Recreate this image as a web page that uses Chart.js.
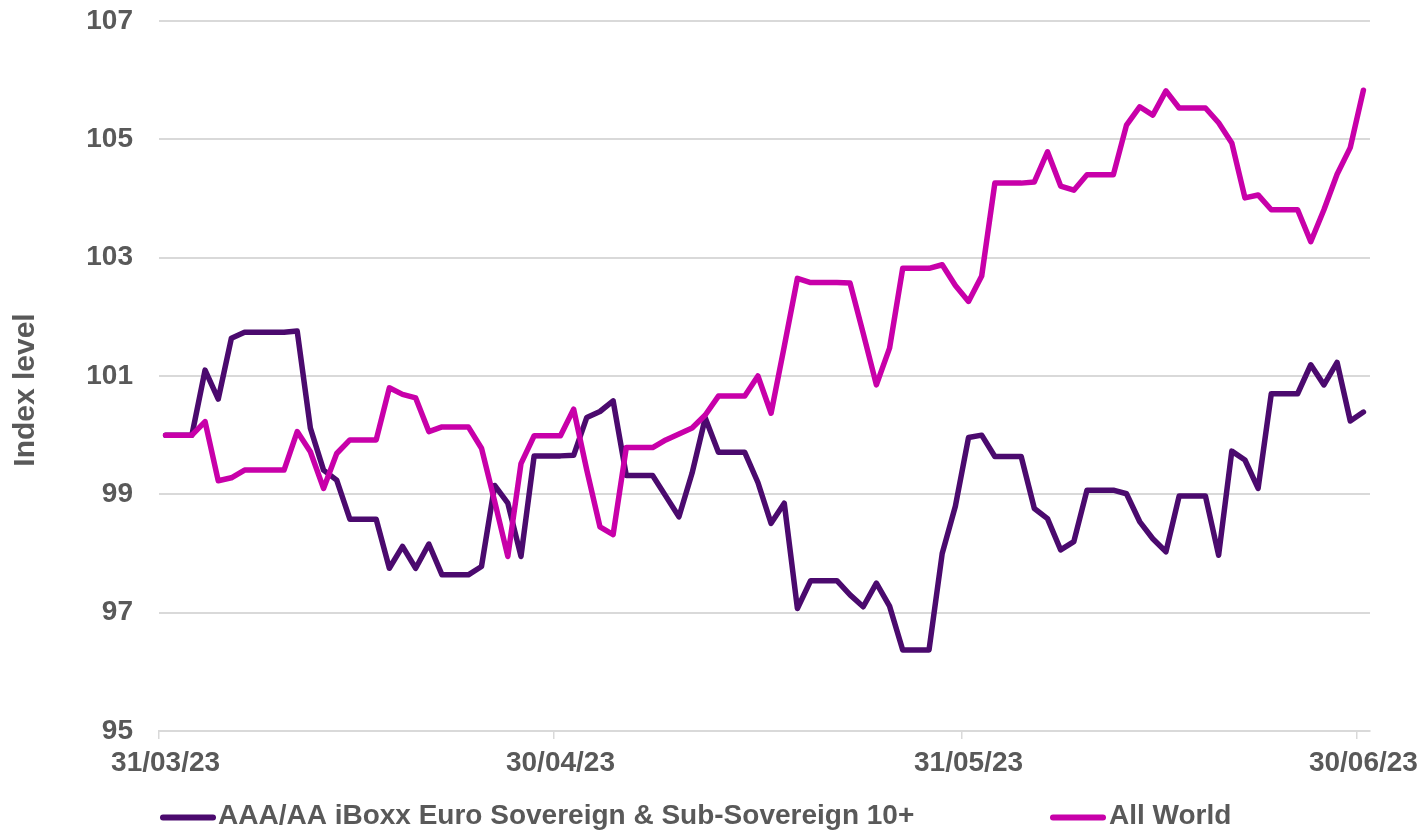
<!DOCTYPE html>
<html>
<head>
<meta charset="utf-8">
<script src="https://cdn.jsdelivr.net/npm/chart.js@4.4.1/dist/chart.umd.min.js"></script>
<style>
html,body{margin:0;padding:0;background:#ffffff;}
#wrap{width:1421px;height:832px;}
</style>
</head>
<body>
<div id="wrap"><canvas id="c" width="1421" height="832"></canvas></div>
<script>
// ---- data ----
const dates = [
  '31/03/23',
  '01/04/23','02/04/23','03/04/23','04/04/23','05/04/23','06/04/23','07/04/23','08/04/23','09/04/23','10/04/23',
  '11/04/23','12/04/23','13/04/23','14/04/23','15/04/23','16/04/23','17/04/23','18/04/23','19/04/23','20/04/23',
  '21/04/23','22/04/23','23/04/23','24/04/23','25/04/23','26/04/23','27/04/23','28/04/23','29/04/23','30/04/23',
  '01/05/23','02/05/23','03/05/23','04/05/23','05/05/23','06/05/23','07/05/23','08/05/23','09/05/23','10/05/23',
  '11/05/23','12/05/23','13/05/23','14/05/23','15/05/23','16/05/23','17/05/23','18/05/23','19/05/23','20/05/23',
  '21/05/23','22/05/23','23/05/23','24/05/23','25/05/23','26/05/23','27/05/23','28/05/23','29/05/23','30/05/23','31/05/23',
  '01/06/23','02/06/23','03/06/23','04/06/23','05/06/23','06/06/23','07/06/23','08/06/23','09/06/23','10/06/23',
  '11/06/23','12/06/23','13/06/23','14/06/23','15/06/23','16/06/23','17/06/23','18/06/23','19/06/23','20/06/23',
  '21/06/23','22/06/23','23/06/23','24/06/23','25/06/23','26/06/23','27/06/23','28/06/23','29/06/23','30/06/23'
];
const xTickDates = ['31/03/23', '30/04/23', '31/05/23', '30/06/23'];
const yTicks = [95, 97, 99, 101, 103, 105, 107];
const seriesNames = ['AAA/AA iBoxx Euro Sovereign & Sub-Sovereign 10+', 'All World'];
const axisTitle = 'Index level';

const iboxx = [
  100.00, 100.00, 100.00, 101.10, 100.61, 101.64, 101.74, 101.74, 101.74, 101.74,
  101.76, 100.12, 99.41, 99.24, 98.58, 98.58, 98.58, 97.75, 98.12, 97.75,
  98.16, 97.64, 97.64, 97.64, 97.78, 99.15, 98.85, 97.95, 99.65, 99.65,
  99.65, 99.66, 100.30, 100.40, 100.58, 99.32, 99.32, 99.32, 98.97, 98.62,
  99.36, 100.29, 99.71, 99.71, 99.71, 99.20, 98.51, 98.85, 97.07, 97.54,
  97.54, 97.54, 97.30, 97.10, 97.50, 97.11, 96.37, 96.37, 96.37, 98.00,
  98.80, 99.96, 100.00, 99.64, 99.64, 99.64, 98.76, 98.59, 98.06, 98.20,
  99.07, 99.07, 99.07, 99.01, 98.54, 98.25, 98.03, 98.97, 98.97, 98.97,
  97.97, 99.73, 99.58, 99.10, 100.70, 100.70, 100.70, 101.19, 100.85, 101.23,
  100.24, 100.39
];
const allWorld = [
  100.00, 100.00, 100.00, 100.23, 99.23, 99.28, 99.41, 99.41, 99.41, 99.41,
  100.06, 99.72, 99.10, 99.69, 99.92, 99.92, 99.92, 100.80, 100.69, 100.63,
  100.06, 100.14, 100.14, 100.14, 99.78, 98.88, 97.95, 99.52, 99.99, 99.99,
  99.99, 100.44, 99.41, 98.45, 98.32, 99.79, 99.79, 99.79, 99.92, 100.02,
  100.12, 100.34, 100.66, 100.66, 100.66, 101.00, 100.37, 101.50, 102.65, 102.58,
  102.58, 102.58, 102.57, 101.72, 100.85, 101.47, 102.82, 102.82, 102.82, 102.88,
  102.53, 102.26, 102.69, 104.26, 104.26, 104.26, 104.28, 104.79, 104.21, 104.14,
  104.40, 104.40, 104.40, 105.24, 105.55, 105.41, 105.82, 105.53, 105.53, 105.53,
  105.28, 104.94, 104.01, 104.06, 103.81, 103.81, 103.81, 103.27, 103.81, 104.41,
  104.86, 105.83
];

// ---- styling ----
const FONT = '"Liberation Sans", Arial, sans-serif';
const TEXT = '#595959';
const GRID = '#d9d9d9';
const PURPLE = '#4b0a6e';
const MAGENTA = '#c800a9';

const refText = {
  id: 'refText',
  afterDraw(chart) {
    const ctx = chart.ctx;
    ctx.save();
    // y-axis title
    ctx.font = 'bold 30px ' + FONT;
    ctx.fillStyle = TEXT;
    ctx.textAlign = 'center';
    ctx.textBaseline = 'middle';
    ctx.translate(26, 390);
    ctx.rotate(-Math.PI / 2);
    ctx.fillText(axisTitle, 0, 0);
    ctx.restore();

    // legend
    ctx.save();
    const pos = [{x0: 163, x1: 213, tx: 218}, {x0: 1053, x1: 1103, tx: 1109}];
    const y = 816;
    ctx.font = 'bold 28px ' + FONT;
    ctx.textBaseline = 'middle';
    ctx.textAlign = 'left';
    chart.data.datasets.forEach((ds, i) => {
      const p = pos[i];
      ctx.strokeStyle = ds.borderColor;
      ctx.lineWidth = 6;
      ctx.lineCap = 'round';
      ctx.beginPath();
      ctx.moveTo(p.x0, y + 1.5);
      ctx.lineTo(p.x1, y + 1.5);
      ctx.stroke();
      ctx.fillStyle = TEXT;
      ctx.fillText(ds.label, p.tx, y);
    });
    ctx.restore();
  }
};

new Chart(document.getElementById('c'), {
  type: 'line',
  data: {
    labels: dates,
    datasets: [
      { label: seriesNames[0], data: iboxx, borderColor: PURPLE, backgroundColor: PURPLE,
        borderWidth: 5.5, pointRadius: 0, tension: 0, borderJoinStyle: 'round', borderCapStyle: 'round', order: 1 },
      { label: seriesNames[1], data: allWorld, borderColor: MAGENTA, backgroundColor: MAGENTA,
        borderWidth: 5.5, pointRadius: 0, tension: 0, borderJoinStyle: 'round', borderCapStyle: 'round', order: 0 }
    ]
  },
  options: {
    responsive: false,
    devicePixelRatio: 1,
    animation: false,
    layout: { padding: { left: 0, right: 51, top: 0, bottom: 50 } },
    plugins: {
      legend: { display: false },
      tooltip: { enabled: false }
    },
    scales: {
      x: {
        type: 'category',
        offset: true,
        grid: {
          offset: true,
          drawOnChartArea: false,
          drawTicks: true,
          tickLength: 8,
          lineWidth: 1.5,
          color: c => (c.tick && xTickDates.includes(dates[c.index])) ? GRID : 'rgba(0,0,0,0)'
        },
        border: { display: true, color: GRID, width: 2 },
        ticks: {
          autoSkip: false,
          maxRotation: 0,
          minRotation: 0,
          padding: 7,
          color: TEXT,
          font: { family: FONT, size: 28, weight: 'bold' },
          callback: (v, i) => xTickDates.includes(dates[i]) ? dates[i] : ''
        },
        afterFit: s => { s.height = 51; s.paddingLeft = 0; s.paddingRight = 0; }
      },
      y: {
        min: 95,
        max: 107,
        afterBuildTicks: s => { s.ticks = yTicks.map(v => ({ value: v })); },
        grid: { drawTicks: false, color: GRID, lineWidth: 2 },
        border: { display: false },
        ticks: {
          padding: 26,
          color: TEXT,
          font: { family: FONT, size: 28, weight: 'bold' }
        },
        afterFit: s => { s.width = 159; s.paddingTop = 21; s.paddingBottom = 0; }
      }
    }
  },
  plugins: [refText]
});
</script>
</body>
</html>
